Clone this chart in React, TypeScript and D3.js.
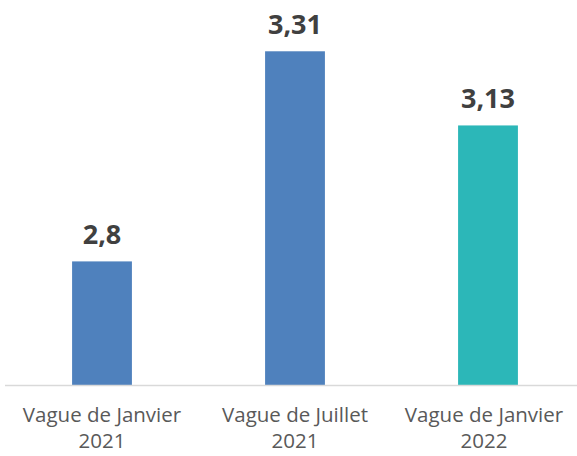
import { useRef, useEffect } from "react";
import * as d3 from "d3";

const categories = [["Vague de Janvier", "2021"], ["Vague de Juillet", "2021"], ["Vague de Janvier", "2022"]];
const values = [2.8, 3.31, 3.13];
const colors = ["#4F81BD", "#4F81BD", "#2CB7B8"];

export default function App() {
  const svgRef = useRef<SVGSVGElement>(null);

  useEffect(() => {
    const width = 577;
    const height = 456;
    const baseline = 385;

    const svg = d3.select(svgRef.current)
      .attr("width", width)
      .attr("height", height)
      .style("position", "absolute")
      .style("left", 0)
      .style("top", 0)
      .style("font-family", "'Open Sans', sans-serif");
    svg.selectAll("*").remove();

    const x = d3.scaleBand<number>()
      .domain(d3.range(values.length))
      .range([5.5, 584.5])
      .paddingInner(0.69)
      .paddingOuter(0.345);

    const y = d3.scaleLinear().domain([2.5, 3.5]).range([baseline, baseline - 412]);

    // bars
    svg.selectAll("rect.bar")
      .data(values)
      .join("rect")
      .attr("class", "bar")
      .attr("x", (d, i) => x(i)!)
      .attr("width", x.bandwidth())
      .attr("y", d => y(d))
      .attr("height", d => baseline - y(d))
      .attr("fill", (d, i) => colors[i]);

    // axis line
    svg.append("line")
      .attr("x1", 5).attr("x2", width)
      .attr("y1", baseline + 0.5).attr("y2", baseline + 0.5)
      .attr("stroke", "#D9D9D9")
      .attr("stroke-width", 1.5);

    // value labels
    svg.selectAll("text.val")
      .data(values)
      .join("text")
      .attr("class", "val")
      .attr("x", (d, i) => x(i)! + x.bandwidth() / 2)
      .attr("y", d => y(d) - 17)
      .attr("text-anchor", "middle")
      .attr("fill", "#404040")
      .style("font-size", "27px")
      .style("font-weight", "bold")
      .text(d => d.toString().replace(".", ","));

    // category labels
    const cat = svg.selectAll("text.cat")
      .data(categories)
      .join("text")
      .attr("class", "cat")
      .attr("text-anchor", "middle")
      .attr("fill", "#595959")
      .style("font-size", "20.5px");
    cat.each(function (d, i) {
      const t = d3.select(this);
      d.forEach((line, j) => {
        t.append("tspan")
          .attr("x", x(i)! + x.bandwidth() / 2 - (i === 2 ? 4 : 0))
          .attr("y", 422 + j * 26)
          .text(line);
      });
    });
  }, []);

  return <svg ref={svgRef}></svg>;
}
